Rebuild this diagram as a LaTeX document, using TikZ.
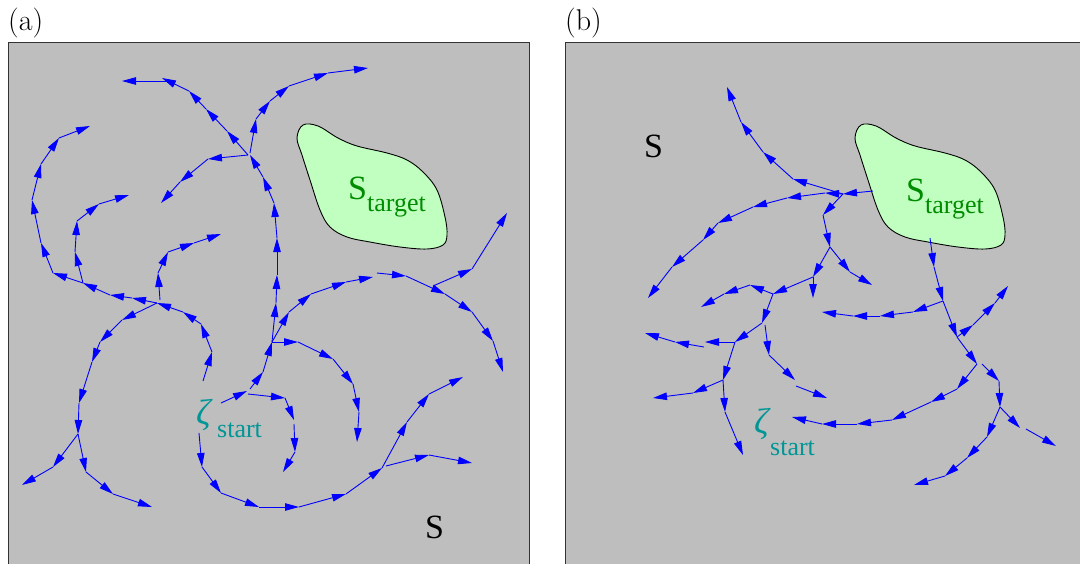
\documentclass[tikz,border=0pt]{standalone}
\usepackage{fontspec}
\newfontfamily\timesfont{Liberation Serif}
\usetikzlibrary{arrows.meta}

\definecolor{panelgray}{RGB}{190,190,190}
\definecolor{blobfill}{RGB}{192,255,192}
\definecolor{targetgreen}{RGB}{0,140,0}
\definecolor{startteal}{RGB}{0,150,150}
\definecolor{treeblue}{RGB}{0,0,255}

\tikzset{
  panel/.style={fill=panelgray, draw=black!80, line width=1pt},
  blob/.style={fill=blobfill, draw=black, line width=0.9pt},
  treeedge/.style={draw=treeblue, line width=0.9pt,
    -{Triangle[length=14pt,width=7.5pt]}},
  tag/.style={anchor=base west, inner sep=0pt, font=\fontsize{30}{32}\selectfont},
  setlabel/.style={anchor=base west, inner sep=0pt, font=\fontsize{34}{34}\timesfont},
}

% one tree branch: a sequence of points, every step drawn as an arrow
\newcommand\branch[1]{%
  \foreach \p [count=\k, remember=\p as \q] in {#1}{%
    \ifnum\k>1 \draw[treeedge] \q -- \p;\fi}}

% outline of the target set
\newcommand\targetoutline{plot[smooth cycle, tension=0.6] coordinates {
  (297,138) (303,125) (318,126) (338,138) (357,146) (387,153) (407,160)
  (423,172) (437,190) (445,217) (447,235) (443,245) (427,249) (400,247)
  (370,242) (347,237) (330,227) (320,210) (310,180) (302,155)}}

\begin{document}
\begin{tikzpicture}[x=1pt, y=-1pt]
\useasboundingbox (0,0) rectangle (1080,563);
\clip (0,0) rectangle (1080,563);

% ---------- panels ----------
\path[panel] (8.5,42.5) rectangle (529.5,600);
\path[panel] (565.5,42.5) rectangle (1100,600);

\draw[blob] \targetoutline;
\draw[blob, shift={(558,0)}] \targetoutline;

% ---------- (a): tree grown from the start ----------
\branch{(221,403),(247,391)}
\branch{(250,389),(263,372),(272,342)}
\branch{(272,342),(276,303),(277,275),(277,238),(274,203),(263,177),(250,155)}
\branch{(248,155),(227,131),(206,109),(189,91),(162,78)}
\branch{(167,81),(122,81)}
\branch{(248,155),(208,159),(180,182),(161,203)}
\branch{(250,153),(256,119),(270,101),(289,86),(328,73),(368,68)}
\branch{(272,342),(289,312),(311,294),(346,282),(373,277)}
\branch{(377,273),(406,276),(445,294),(472,312),(493,341),(503,372)}
\branch{(433,286),(472,269),(507,213)}
\branch{(272,342),(298,342),(333,359),(353,384),(359,412),(357,442)}
\branch{(248,394),(285,398),(294,420)}
\branch{(294,424),(295,452),(283,472)}
\branch{(203,381),(212,352),(201,324),(183,312),(157,303)}
\branch{(160,300),(158,273),(168,252),(194,243),(221,234)}
\branch{(157,303),(132,298),(110,295),(83,283)}
\branch{(83,283),(53,273),(41,243),(32,200),(41,164),(59,138),(90,126)}
\branch{(83,283),(75,252),(77,221),(99,204),(129,195)}
\branch{(157,303),(122,320),(100,342),(92,362),(79,403),(78,434)}
\branch{(78,434),(53,467),(22,485)}
\branch{(78,434),(86,472),(113,494),(152,507)}
\branch{(199,433),(202,467),(221,493),(259,507),(299,507),(346,494),(382,468),(407,422),(429,394),(463,377)}
\branch{(386,466),(429,455),(472,463)}

% ---------- (b): tree grown from the target ----------
\branch{(873,191),(843,194)}
\branch{(843,194),(793,179),(763,152),(741,122),(727,87)}
\branch{(843,194),(825,193),(787,198),(753,207),(718,223),(703,240),(672,267),(648,298)}
\branch{(843,194),(823,215),(830,247)}
\branch{(830,247),(813,277),(813,298)}
\branch{(830,247),(850,272),(872,285)}
\branch{(813,277),(773,294)}
\branch{(773,294),(750,285),(724,294),(701,307)}
\branch{(773,294),(762,323)}
\branch{(762,323),(735,342),(705,342)}
\branch{(704,347),(675,342),(645,333)}
\branch{(735,342),(723,380)}
\branch{(723,380),(693,393),(653,398)}
\branch{(723,380),(725,412),(743,455)}
\branch{(765,325),(769,355),(795,380)}
\branch{(796,386),(827,398)}
\branch{(930,238),(934,267),(943,301),(957,337),(977,364)}
\branch{(943,301),(913,312),(880,316),(853,316),(822,312)}
\branch{(957,337),(973,325),(995,303),(1008,286)}
\branch{(977,364),(957,389),(931,402),(892,420),(857,424),(822,424),(792,417)}
\branch{(982,364),(999,381),(1000,407)}
\branch{(1000,407),(987,437),(967,458),(945,476),(914,485)}
\branch{(1000,407),(1020,428)}
\branch{(1026,429),(1056,446)}

% ---------- labels ----------
\node[tag] (tagA) at (8,30) {(a)};
\node[tag] (tagB) at (565,30) {(b)};

\node[setlabel] (freeA) at (425,538) {S};
\node[setlabel] (freeB) at (644,157) {S};

\node[setlabel, text=targetgreen] (targetA) at (348,199)
  {S\raisebox{-12pt}{\fontsize{26}{26}\selectfont target}};
\node[setlabel, text=targetgreen] (targetB) at (906,201)
  {S\raisebox{-12pt}{\fontsize{26}{26}\selectfont target}};

\node[setlabel, text=startteal, font=\fontsize{36}{36}\timesfont\itshape] (zetaA) at (196,424) {ζ};
\node[anchor=base west, inner sep=0pt, text=startteal, font=\fontsize{26}{26}\timesfont] (startA) at (217,437) {start};
\node[setlabel, text=startteal, font=\fontsize{36}{36}\timesfont\itshape] (zetaB) at (754,433) {ζ};
\node[anchor=base west, inner sep=0pt, text=startteal, font=\fontsize{26}{26}\timesfont] (startB) at (770,455) {start};
\end{tikzpicture}
\end{document}
